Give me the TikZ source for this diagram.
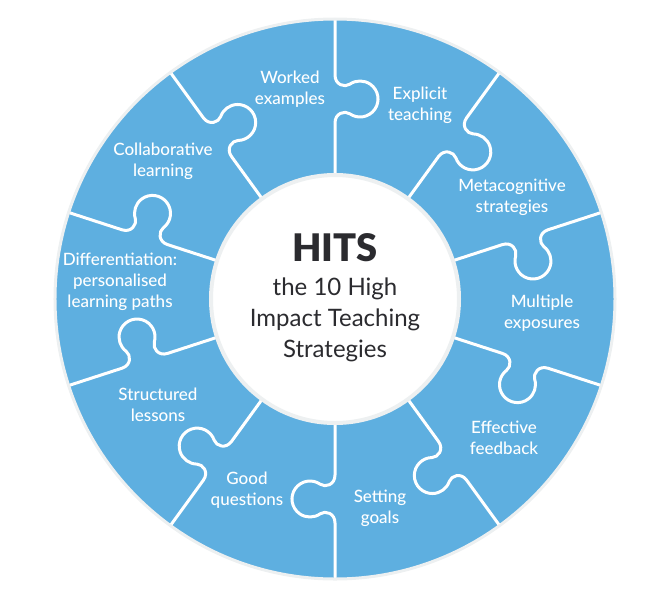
\documentclass[tikz,border=0pt]{standalone}
\usepackage{fontspec}
\setmainfont{Lato}
\IfFontExistsTF{Lato Black}{\newfontfamily\heavyfont{Lato Black}}{\newfontfamily\heavyfont{Lato}[FakeBold=2,BoldFont={Lato Bold}]}
\IfFontExistsTF{Lato Medium}{\newfontfamily\medfont{Lato Medium}}{\newfontfamily\medfont{Lato}}
\usepackage{tikz}
\usetikzlibrary{positioning}

\definecolor{hitsblue}{HTML}{5EAFE0}
\definecolor{rim}{HTML}{EDF0F1}
\definecolor{ink}{HTML}{2B2B2F}

\begin{document}
\begin{tikzpicture}[x=1pt,y=1pt]
    \tikzstyle{seam}=[white,line width=3pt,line join=round]
    \tikzstyle{piece}=[text=white,align=center,font=\medfont\fontsize{17}{21}\selectfont]
    \tikzstyle{hub}=[text=ink,align=center]

    \useasboundingbox (-335,-315) rectangle (317,299);

    % ring of ten pieces
    \fill[hitsblue] (0,0) circle (280);
    \foreach \a in {90,54,18,-18,-54,-90,-126,-162,-198,-234}
        \draw[seam,rotate=\a,yscale=-1] (120,0) -- (176,0)
            .. controls (186,0) and (188.7,9.8) .. (185.26,14.7)
            arc[start angle=215,end angle=-35,radius=18]
            .. controls (211.3,9.8) and (214,0) .. (224,0) -- (284,0);
    \draw[rim,line width=3pt] (0,0) circle (280);
    \draw[rim,fill=white,line width=4pt] (0,0) circle (124);

    % labels
    \node[piece] (worked)    at (-45,210)  {Worked\\examples};
    \node[piece] (explicit)  at (85,194)   {Explicit\\teaching};
    \node[piece] (meta)      at (177,102)  {Metacognitive\\strategies};
    \node[piece] (multiple)  at (207,-14)  {Multiple\\exposures};
    \node[piece] (feedback)  at (169,-139) {Effective\\feedback};
    \node[piece] (goals)     at (45,-209)  {Setting\\goals};
    \node[piece] (questions) at (-88,-191) {Good\\questions};
    \node[piece] (lessons)   at (-177,-106){Structured\\lessons};
    \node[piece] (paths)     at (-215,17)  {Differentiation:\\personalised\\learning paths};
    \node[piece] (collab)    at (-172,138) {Collaborative\\learning};

    % centre
    \node[hub,font=\heavyfont\fontsize{38}{38}\selectfont] (hits) at (0,51) {HITS};
    \node[hub,font=\fontsize{24}{31}\selectfont] (sub) at (0,-21) {the 10 High\\Impact Teaching\\Strategies};
\end{tikzpicture}
\end{document}
